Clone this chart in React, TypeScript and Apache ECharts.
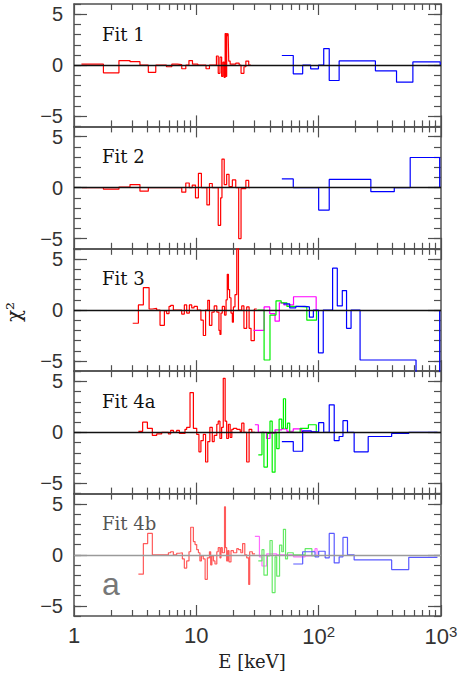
import { useEffect, useRef } from 'react';
import * as echarts from 'echarts';

// ---------- Data (bin start energies in keV, residual level of each bin; last entry = end of last bin) ----------
const R1x = [1.15, 1.74, 2.33, 2.87, 3.46, 4.05, 4.66, 5.7, 6.3, 7.0, 7.6, 8.2, 8.7, 9.3, 10.3, 12.0, 12.8, 14.6, 15.1, 15.6, 16.1, 16.5, 16.9, 17.2, 17.45, 17.7, 17.95, 18.2, 18.4, 18.9, 21.0, 22.4, 23.2, 24.5, 25.4, 26.8, 27.9];
const R1y = [0.1, -0.75, 0.45, 0.35, 0, -0.7, 0, -0.15, 0.1, 0.05, -0.35, 0, 0.45, 0.1, 0, -0.35, 0, 0.9, -0.8, 0.8, -1.1, 0.3, -1.2, 3.1, -1.1, 3.1, 2.9, 3.1, 0.4, 0.1, 0.2, 0, -0.8, -0.15, 0.4, 0, 0];
const B1x = [50, 62, 74, 86, 99.6, 110, 122, 147, 291, 433, 589, 985];
const B1y = [0.95, -0.85, 0, -0.36, 0, 1.63, -1.5, 0.42, -0.55, -1.66, 0.32, 0];

const R2x = [1.156, 1.74, 2.33, 2.87, 3.46, 4.05, 7.6, 8.2, 8.75, 9.26, 9.84, 10.4, 11.0, 12.2, 12.8, 13.5, 15.1, 15.8, 16.2, 16.9, 17.7, 18.5, 19.7, 21.0, 22.2, 23.2, 25.4, 26.8, 27.5];
const R2y = [0, -0.15, 0.05, 0.3, -0.35, 0, -0.45, 0.45, 0, 0.25, -1.0, 1.4, 0, -1.7, 0.4, 0, -3.7, -1.0, 2.8, 0.3, 1.3, 0.1, 0.75, 0, -5.0, -0.1, 0.7, 0, 0];
const B2x = [50, 62, 100, 122, 267, 415, 560, 975];
const B2y = [0.85, 0, -2.2, 0.8, -0.4, 0, 2.95, 0];

const R3x = [3.02, 3.36, 3.69, 4.11, 4.37, 4.74, 5.05, 5.48, 5.72, 5.98, 6.17, 6.49, 7.59, 7.98, 8.34, 8.77, 9.17, 9.58, 10.2, 10.9, 11.4, 11.9, 12.4, 12.8, 13.4, 14.0, 14.7, 15.3, 15.6, 15.9, 16.3, 17.0, 17.5, 17.9, 18.3, 18.7, 19.2, 19.7, 20.1, 20.7, 21.4, 22.1, 23.5, 24.5, 25.8, 27.0, 28.0, 29.8, 31.2];
const R3y = [-1.3, 0.5, 2.2, 0.1, 0.15, 0, -1.5, -0.1, -0.35, 0.35, 0.45, 0, -0.4, 0.5, -0.3, 0.5, 0.2, 0.35, 0, -1.0, -2.5, 0, 0.95, -1.5, -0.2, 0.4, -0.2, -2.0, -2.4, -0.3, 0.35, -0.5, 1.0, 3.5, 2.0, 1.2, -0.3, -1.2, 0.3, 1.5, 6.5, 0, 0.4, -1.8, 0.3, -1.8, -3.0, 0.1, 0.1];
const M3x = [29.3, 35.8, 39.8, 44, 47.7, 52, 62.3, 95.4];
const M3y = [-2.0, 0.3, -0.35, -1.1, 0.7, 0.5, 1.3, 0];
const G3x = [31.6, 35.8, 40, 44.8, 49.4, 55, 62.3, 80, 96];
const G3y = [0, -4.9, -0.5, 0.9, 0.7, 0.35, 0.3, -1.0, 0];
const B3x = [51.5, 58, 65, 77, 84, 90.5, 99.6, 109, 130, 142, 156, 169, 184, 218, 625, 975];
const B3y = [0.6, 0.2, 0.35, 0.3, -0.7, 0, -4.2, 0, 4.1, 0.4, 1.9, -1.8, 0, -4.9, -6.5, 0];

const R4x = [3.36, 3.64, 3.98, 4.37, 4.74, 5.21, 5.91, 6.17, 6.49, 6.91, 7.27, 8.08, 8.34, 8.88, 9.46, 10.07, 10.5, 10.9, 11.4, 11.9, 12.4, 12.9, 13.5, 14.0, 14.7, 15.1, 15.6, 16.1, 16.6, 17.2, 17.7, 18.3, 18.9, 19.5, 20.1, 21.4, 22.8, 23.5, 24.5, 25.8, 27.0, 28.4, 30.2];
const R4y = [0.1, 1.0, 0.4, -0.3, -0.15, 0, -0.15, 0.2, 0, 0.2, -0.1, 0.3, 0.5, 3.9, 0.4, -0.2, -1.9, -0.8, -0.2, -2.9, -0.9, 0.5, -0.9, -0.3, 0.8, 1.1, -0.6, 0.5, 5.3, 1.1, -0.6, 0.8, -0.5, 0.3, 0.4, 0.3, 0.1, 0.9, 0, -2.9, 0.3, 0, 0];
const M4x = [30.1, 32.1, 37.5, 40, 44, 49.9, 55, 62, 72.6, 95.6];
const M4y = [0.75, 0, -0.6, -0.1, 0.25, 0.35, 0.1, 0.35, 0.05, 0];
const G4x = [32.1, 34.4, 35.7, 38.1, 40, 41.7, 44, 45.4, 47.5, 49.9, 51.5, 53.6, 55.6, 58, 70.6, 82.4, 95.6];
const G4y = [-2.2, 0, -3.4, -0.1, 1.1, -3.9, 0, -1.6, 1.3, 0.4, 3.3, 0.4, 0.9, 0, 0.4, 0.75, 0];
const B4x = [50, 62, 74, 87, 100, 110, 122, 134, 147, 158, 172, 195, 254, 395, 545, 935];
const B4y = [-0.9, -1.85, 0.15, 0.05, 0.95, 0, 2.7, -0.8, -0.4, 1.15, 0, -1.9, -0.4, -0.1, 0, 0];

const R5x = [3.36, 3.69, 4.0, 4.37, 5.91, 6.17, 6.49, 6.91, 7.27, 7.69, 7.98, 8.34, 8.71, 8.99, 9.46, 9.76, 10.07, 10.4, 10.7, 11.0, 11.4, 11.8, 12.3, 12.8, 13.1, 13.4, 13.8, 14.2, 14.7, 15.1, 15.6, 15.9, 16.3, 17.0, 17.3, 17.7, 18.1, 18.5, 19.2, 20.1, 21.4, 22.1, 23.1, 23.9, 24.9, 25.8, 26.8, 27.3, 28.7, 30.2];
const R5y = [-1.9, 1.1, 2.1, 0, 0.2, 0.3, 0, 0.15, 0.2, -0.4, -1.3, -0.6, 0.3, 2.7, 1.3, 1.0, 0.5, 0.2, -0.6, -0.1, -0.4, -2.4, -0.3, 0.3, -1.0, -0.1, -0.6, -0.9, 0.3, 0.7, -0.3, 0.7, 0.2, 4.7, 0.7, -0.6, 0.4, -0.7, 0.4, 0.2, 0.6, 0.5, 0.2, 1.1, 0, -0.3, -2.9, 0.3, 0.1, 0.1];
const M5x = [30.1, 32.8, 34.4, 37.6, 45.3, 62.3, 77.5, 88, 93.4, 97];
const M5y = [1.8, -0.2, -1.1, 0.1, 0, -0.2, -0.1, 0.35, 0.6, 0];
const G5x = [32.1, 34.4, 35.7, 38.1, 40, 41.7, 44, 45.4, 47.9, 49.9, 51.5, 53.6, 55.6, 62, 77.5, 88, 95.6];
const G5y = [-0.6, 0.5, -2.0, -0.1, 1.4, -3.7, -0.2, -2.1, 0.95, 0.3, 2.5, -0.4, 0.2, 0, 0.6, -0.1, 0];
const B5x = [62, 74, 82, 93.4, 100, 113, 122, 134, 147, 158, 172, 195, 395, 545, 935];
const B5y = [-0.9, 0.3, 0.3, -0.2, 0.35, -0.3, 2.1, -0.8, -0.2, 1.7, 0, -0.5, -1.45, -0.25, -0.25];

const PANEL_LABELS = ['Fit 1', 'Fit 2', 'Fit 3', 'Fit 4a', 'Fit 4b'];
const X_MAJOR = [1, 10, 100, 1000];
const X_MINOR = [2, 3, 4, 5, 6, 7, 8, 9, 20, 30, 40, 50, 60, 70, 80, 90, 200, 300, 400, 500, 600, 700, 800, 900];
const Y_MAJOR = [-5, 0, 5];

const RED = '#ff0000', BLUE = '#0000ff', GREEN = '#00f000', MAGENTA = '#ff00ff';
const RED_L = '#ff5a5a', BLUE_L = '#5a5aff', GREEN_L = '#66ea66', MAGENTA_L = '#ff6cff';

const PANEL_SERIES: [number[], number[], string][][] = [
  [[R1x, R1y, RED], [B1x, B1y, BLUE]],
  [[R2x, R2y, RED], [B2x, B2y, BLUE]],
  [[R3x, R3y, RED], [M3x, M3y, MAGENTA], [G3x, G3y, GREEN], [B3x, B3y, BLUE]],
  [[R4x, R4y, RED], [M4x, M4y, MAGENTA], [G4x, G4y, GREEN], [B4x, B4y, BLUE]],
  [[R5x, R5y, RED_L], [M5x, M5y, MAGENTA_L], [G5x, G5y, GREEN_L], [B5x, B5y, BLUE_L]],
];

const FRAME = '#505050';
const LEFT = 74;
const PW = 367;
const TOP0 = 4;
const PH = 122.4;
const SANS = '"Liberation Sans", Arial, sans-serif';
const SERIF = '"DejaVu Serif", serif';

export default function App() {
  const ref = useRef<HTMLDivElement>(null);
  useEffect(() => {
    if (!ref.current) return;
    const chart = echarts.init(ref.current, undefined, { renderer: 'svg' });
    const grid: any[] = [];
    const xAxis: any[] = [];
    const yAxis: any[] = [];
    const series: any[] = [];
    const graphic: any[] = [];
    const tickStyle = { color: FRAME, width: 1.2 };
    const lineStyle = { color: FRAME, width: 1.5 };

    PANEL_SERIES.forEach((list, i) => {
      const top = TOP0 + i * PH;
      const last = i === PANEL_SERIES.length - 1;
      grid.push({ left: LEFT, width: PW, top, height: PH });
      const xb = {
        type: 'log', logBase: 10, min: 1, max: 1000, gridIndex: i,
        splitLine: { show: false }, axisLabel: { show: false },
        axisLine: { show: false, onZero: false }, axisTick: { show: false },
      };
      const xMajor = { show: true, inside: true, length: 11, customValues: X_MAJOR, lineStyle: tickStyle };
      const xMinor = { show: true, inside: true, length: 6, customValues: X_MINOR, lineStyle: tickStyle };
      xAxis.push({
        ...xb, position: 'bottom',
        axisLine: { show: true, onZero: false, lineStyle },
        axisTick: xMajor,
        axisLabel: last ? {
          show: true, customValues: X_MAJOR, margin: 8, color: '#333', fontSize: 22, fontFamily: SANS,
          formatter: (v: number) => {
            const e = Math.round(Math.log10(v));
            if (e === 0) return '1';
            if (e === 1) return '10';
            return '{b|10}{s|' + e + '}';
          },
          rich: {
            b: { fontSize: 22, fontFamily: SANS, color: '#333' },
            s: { fontSize: 15, fontFamily: SANS, color: '#333', padding: [0, 0, 10, 0] },
          },
        } : { show: false },
      });
      xAxis.push({ ...xb, position: 'bottom', axisTick: xMinor });
      xAxis.push({ ...xb, position: 'top', axisLine: { show: true, onZero: false, lineStyle }, axisTick: xMajor });
      xAxis.push({ ...xb, position: 'top', axisTick: xMinor });

      const yb = {
        type: 'value', min: -6, max: 6, gridIndex: i,
        splitLine: { show: false }, axisLabel: { show: false },
        axisLine: { show: false, onZero: false }, axisTick: { show: false },
      };
      const yMinor = { show: true, inside: true, length: 7, lineStyle: tickStyle };
      const yMajor = { show: true, inside: true, length: 13, customValues: Y_MAJOR, lineStyle: tickStyle };
      yAxis.push({
        ...yb, position: 'left', interval: 1,
        axisLine: { show: true, onZero: false, lineStyle },
        axisTick: yMinor,
      });
      yAxis.push({
        ...yb, position: 'left', axisTick: yMajor,
        axisLabel: {
          show: true, customValues: Y_MAJOR, margin: 11, color: '#333', fontSize: 20, lineHeight: 17, fontFamily: SANS,
          formatter: (v: number) => (v < 0 ? '\u2212' + Math.abs(v) : String(v)),
        },
      });
      yAxis.push({ ...yb, position: 'right', interval: 1, axisLine: { show: true, onZero: false, lineStyle }, axisTick: yMinor });
      yAxis.push({ ...yb, position: 'right', axisTick: yMajor });

      list.forEach(([xs, ys, color], k) => {
        series.push({
          type: 'line', xAxisIndex: 4 * i, yAxisIndex: 4 * i, step: 'end',
          symbol: 'none', showSymbol: false, silent: true,
          data: xs.map((x, j) => [x, ys[j]]),
          lineStyle: { color, width: 1.2 },
          itemStyle: { color },
          markLine: k === 0 ? {
            silent: true, symbol: 'none', label: { show: false },
            lineStyle: { color: last ? '#9a9a9a' : '#111', width: 1.3, type: 'solid' },
            data: [{ yAxis: 0 }],
          } : undefined,
        });
      });

      graphic.push({
        type: 'text', x: 102, y: top + 21,
        style: { text: PANEL_LABELS[i], fontSize: 18, fontFamily: SERIF, fill: last ? '#555' : '#111' },
      });
    });

    graphic.push({ type: 'text', x: 102, y: 568, style: { text: 'a', fontSize: 32, fontFamily: SANS, fill: '#777' } });
    graphic.push({
      type: 'text', x: 252, y: 652,
      style: { text: 'E [keV]', fontSize: 18, fontFamily: SERIF, fill: '#222', align: 'center', verticalAlign: 'top' },
    });
    graphic.push({
      type: 'text', x: 14, y: 312, rotation: Math.PI / 2,
      style: { text: '\u03c7\u00b2', fontSize: 20, fontFamily: SERIF, fill: '#222', align: 'center', verticalAlign: 'middle' },
    });

    chart.setOption({ animation: false, grid, xAxis, yAxis, series, graphic });
    return () => chart.dispose();
  }, []);
  return <div ref={ref} style={{ position: 'fixed', left: 0, top: 0, width: 461, height: 675, background: '#fff' }} />;
}
